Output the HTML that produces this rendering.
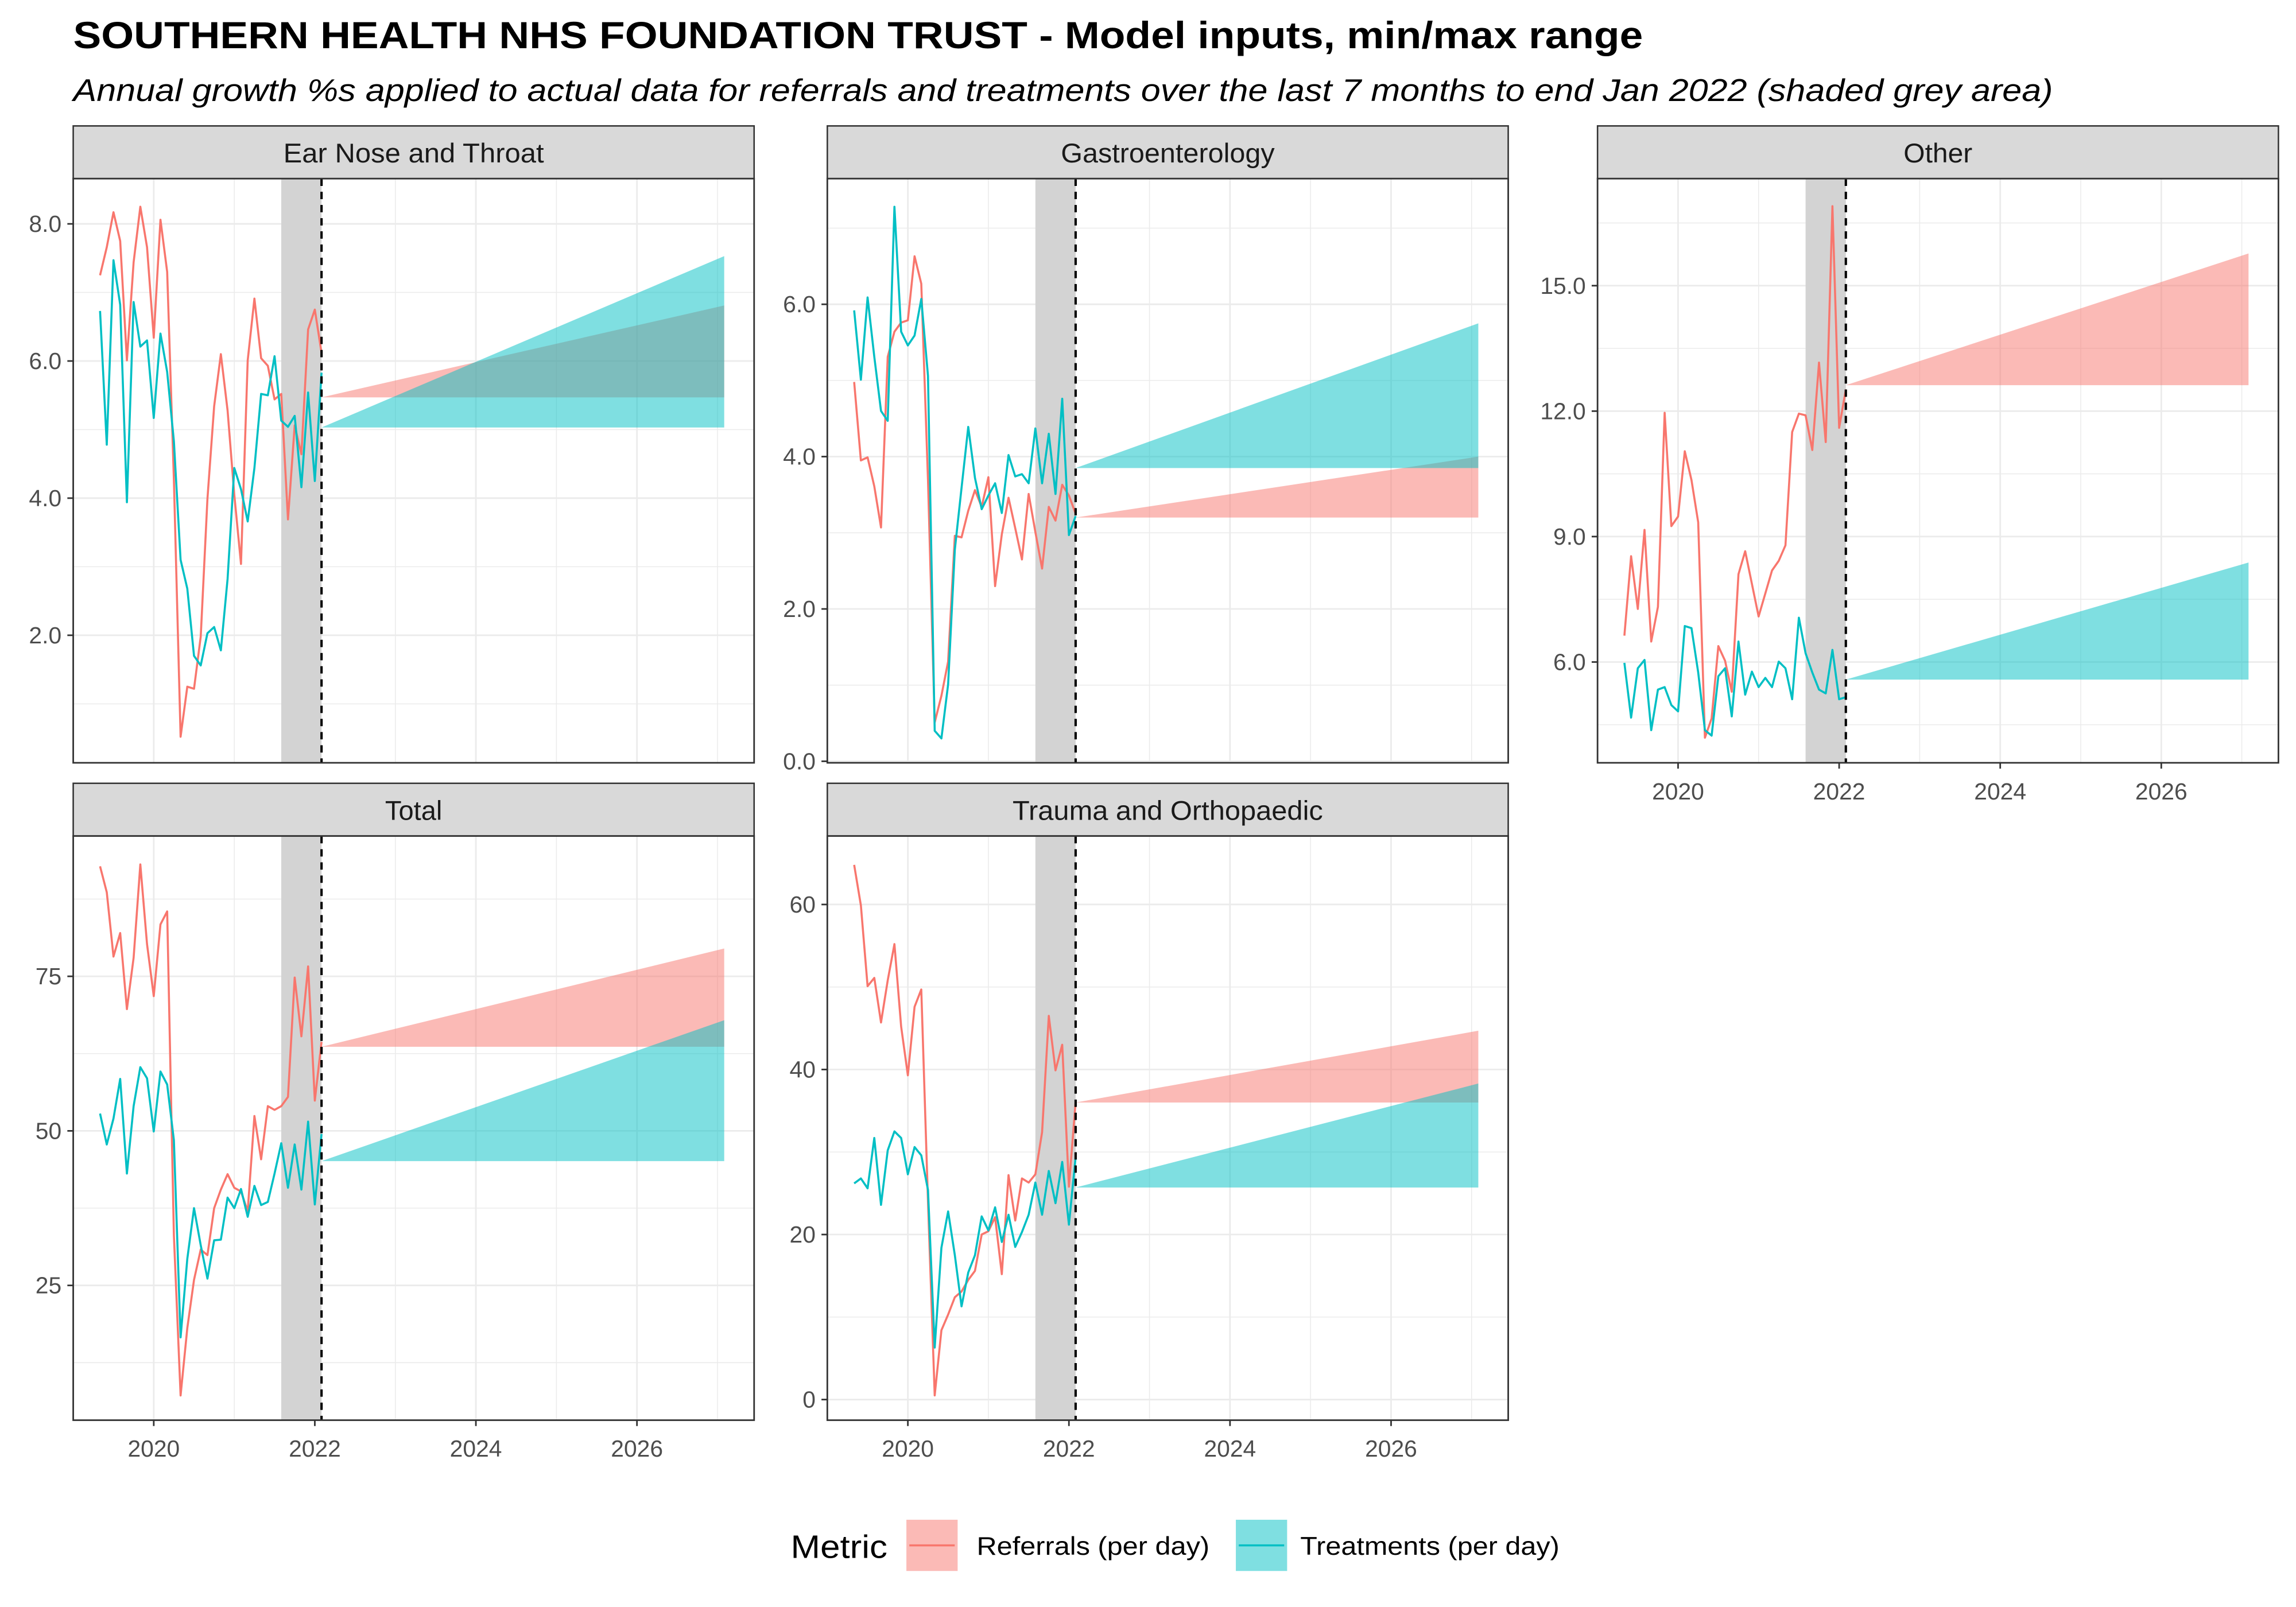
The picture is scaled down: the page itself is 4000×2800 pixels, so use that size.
<!DOCTYPE html>
<html><head><meta charset="utf-8">
<style>
html,body{margin:0;padding:0;background:#fff;}
svg{display:block;}
text{font-family:"Liberation Sans",Arial,sans-serif;}
</style></head>
<body>
<svg id="chart" width="4000" height="2800" viewBox="0 0 1568 1097.6" preserveAspectRatio="none" xmlns="http://www.w3.org/2000/svg">
<rect x="0" y="0" width="1568" height="1097.6" fill="#fff"/>
<text x="50" y="33" font-size="26" font-weight="bold" fill="#000" textLength="1072" lengthAdjust="spacingAndGlyphs">SOUTHERN HEALTH NHS FOUNDATION TRUST - Model inputs, min/max range</text>
<text x="50" y="69" font-size="21.5" font-style="italic" fill="#000" textLength="1352" lengthAdjust="spacingAndGlyphs">Annual growth %s applied to actual data for referrals and treatments over the last 7 months to end Jan 2022 (shaded grey area)</text>
<g id="panels"></g>
<g>
<text x="540" y="1064" font-size="22" fill="#000" textLength="66" lengthAdjust="spacingAndGlyphs">Metric</text>
<rect x="619" y="1038" width="35" height="35" fill="#F8766D" fill-opacity="0.5"/>
<line x1="621" y1="1055.5" x2="652" y2="1055.5" stroke="#F8766D" stroke-width="1.4"/>
<text x="667" y="1062" font-size="17.5" fill="#000" textLength="159" lengthAdjust="spacingAndGlyphs">Referrals (per day)</text>
<rect x="844" y="1038" width="35" height="35" fill="#00BFC4" fill-opacity="0.5"/>
<line x1="846" y1="1055.5" x2="877" y2="1055.5" stroke="#00BFC4" stroke-width="1.4"/>
<text x="888" y="1062" font-size="17.5" fill="#000" textLength="177" lengthAdjust="spacingAndGlyphs">Treatments (per day)</text>
</g>
</svg>
<script>
const startYear = 2019 + 4/12;
const shadeStart = 2021 + 7/12;
const cutYear = 2022 + 1/12;
const projEnd = 2027 + 1/12;
const xTicks = [2020, 2022, 2024, 2026];
const xMinor = [2019, 2021, 2023, 2025, 2027];

const entRef = [7.25,7.66,8.17,7.75,6.01,7.44,8.25,7.66,6.34,8.06,7.30,4.27,0.52,1.25,1.22,1.98,3.99,5.34,6.10,5.28,4.05,3.04,6.01,6.91,6.04,5.93,5.44,5.52,3.69,5.06,4.64,6.46,6.75,6.12];
const entTrt = [6.73,4.78,7.47,6.82,3.94,6.86,6.21,6.30,5.17,6.40,5.84,4.83,3.10,2.68,1.70,1.56,2.03,2.12,1.78,2.82,4.44,4.13,3.66,4.44,5.52,5.50,6.07,5.13,5.04,5.20,4.16,5.54,4.25,5.83];
const entProj = [5.47, 6.81, 5.03, 7.53];
const entTicks = [2,4,6,8];
const entMinor = [1,3,5,7];

const gasRef = [4.98,3.95,3.99,3.61,3.07,5.31,5.64,5.76,5.79,6.63,6.27,3.69,0.51,0.86,1.31,2.96,2.94,3.29,3.56,3.34,3.73,2.30,2.98,3.46,3.06,2.65,3.51,3.01,2.53,3.34,3.16,3.63,3.49,3.25];
const gasTrt = [5.92,5.01,6.09,5.31,4.60,4.47,7.28,5.64,5.46,5.59,6.07,5.06,0.40,0.30,1.01,2.78,3.59,4.39,3.72,3.31,3.49,3.65,3.26,4.02,3.74,3.77,3.65,4.37,3.65,4.30,3.51,4.76,2.97,3.22];
const gasProj = [3.20, 4.00, 3.85, 5.75];
const gasTicks = [0,2,4,6];
const gasMinor = [1,3,5,7];

const othRef = [6.63,8.53,7.27,9.16,6.49,7.32,11.96,9.25,9.48,11.04,10.35,9.34,4.19,4.65,6.38,6.03,5.29,8.10,8.65,7.87,7.09,7.64,8.19,8.42,8.79,11.50,11.94,11.90,11.07,13.16,11.26,16.90,11.60,12.52];
const othTrt = [5.98,4.67,5.85,6.05,4.37,5.34,5.40,4.97,4.82,6.86,6.81,5.75,4.37,4.24,5.66,5.85,4.70,6.49,5.22,5.77,5.40,5.62,5.40,6.01,5.85,5.11,7.06,6.21,5.75,5.34,5.25,6.29,5.11,5.16];
const othProj = [12.62, 15.77, 5.58, 8.38];
const othTicks = [6,9,12,15];
const othMinor = [4.5,7.5,10.5,13.5,16.5];

const totRef = [92.8,88.6,78.2,82.0,69.7,78.0,93.1,80.2,71.8,83.4,85.5,33.1,7.2,18.1,25.9,30.8,29.9,37.5,40.5,43.0,40.8,40.2,37.0,52.4,45.4,54.0,53.4,54.0,55.5,74.8,65.3,76.6,54.9,64.4];
const totTrt = [52.8,47.8,52.0,58.4,43.1,54.0,60.3,58.5,49.9,59.6,57.5,48.5,16.6,29.3,37.5,31.5,26.1,32.3,32.4,39.2,37.5,40.6,36.1,41.1,38.0,38.5,43.1,48.0,40.8,47.8,40.5,51.5,38.1,49.5];
const totProj = [63.6, 79.5, 45.1, 67.9];
const totTicks = [25,50,75];
const totMinor = [12.5,37.5,62.5,87.5];

const toRef = [64.8,59.9,50.1,51.1,45.7,50.8,55.2,45.2,39.3,47.6,49.7,24.0,0.5,8.4,10.3,12.4,13.1,14.5,15.6,20.0,20.4,22.1,15.2,27.2,21.7,26.8,26.3,27.3,32.4,46.5,39.9,43.0,25.8,36.1];
const toTrt = [26.2,26.8,25.6,31.7,23.6,30.2,32.5,31.7,27.3,30.6,29.6,25.4,6.3,18.4,22.8,17.5,11.3,15.4,17.5,22.2,20.5,23.3,19.1,22.4,18.5,20.3,22.4,26.3,22.4,27.7,23.8,28.8,21.2,29.4];
const toProj = [36.0, 44.7, 25.7, 38.3];
const toTicks = [0,20,40,60];
const toMinor = [10,30,50];

const NS = 'http://www.w3.org/2000/svg';
const root = document.getElementById('panels');
function mk(tag, attrs, parent){
  const e = document.createElementNS(NS, tag);
  for (const k in attrs) e.setAttribute(k, attrs[k]);
  (parent||root).appendChild(e);
  return e;
}
function panel(cfg){
  const {name,title,titleLen,left,top,ymin,ymax,ref,trt,proj,ticks,minor,dec,xaxis} = cfg;
  const W = 465, H = 399, stripH = 36;
  const pt = top + stripH, pb = pt + H;
  const g = mk('g', {});
  
  
  const xs = v => left + (v - 2019) * 55;
  const ys = v => pb - (v - ymin) / (ymax - ymin) * H;
  const st = mk('rect', {x:left, y:top, width:W, height:stripH, fill:'#D9D9D9', stroke:'#333', 'stroke-width':1}, g);
  
  
  const stt = mk('text', {x:left+W/2, y:top+25, 'font-size':18.5, 'text-anchor':'middle', fill:'#1A1A1A', textLength:titleLen, lengthAdjust:'spacingAndGlyphs'}, g);
  stt.textContent = title;
  
  
  minor.forEach(v => { const y = ys(v); if (y>pt && y<pb) mk('line', {x1:left, x2:left+W, y1:y, y2:y, stroke:'#EBEBEB', 'stroke-width':0.6}, g); });
  xMinor.forEach(v => { const x = xs(v); if (x>=left && x<=left+W) mk('line', {x1:x, x2:x, y1:pt, y2:pb, stroke:'#EBEBEB', 'stroke-width':0.6}, g); });
  ticks.forEach(v => { const y = ys(v); mk('line', {x1:left, x2:left+W, y1:y, y2:y, stroke:'#EBEBEB', 'stroke-width':1.1}, g); });
  xTicks.forEach(v => { const x = xs(v); mk('line', {x1:x, x2:x, y1:pt, y2:pb, stroke:'#EBEBEB', 'stroke-width':1.1}, g); });
  const sh = mk('rect', {x:xs(shadeStart), y:pt, width:xs(cutYear)-xs(shadeStart), height:H, fill:'#D3D3D3'}, g);
  
  
  const r1 = mk('polygon', {points:`${xs(cutYear)},${ys(proj[0])} ${xs(projEnd)},${ys(proj[0])} ${xs(projEnd)},${ys(proj[1])}`, fill:'#F8766D', 'fill-opacity':0.5}, g);
  
  
  const r2 = mk('polygon', {points:`${xs(cutYear)},${ys(proj[2])} ${xs(projEnd)},${ys(proj[2])} ${xs(projEnd)},${ys(proj[3])}`, fill:'#00BFC4', 'fill-opacity':0.5}, g);
  
  
  const p1 = mk('polyline', {points: ref.map((v,i)=>`${xs(startYear+i/12)},${ys(v)}`).join(' '), fill:'none', stroke:'#F8766D', 'stroke-width':1.4, 'stroke-linejoin':'round'}, g);
  
  
  const p2 = mk('polyline', {points: trt.map((v,i)=>`${xs(startYear+i/12)},${ys(v)}`).join(' '), fill:'none', stroke:'#00BFC4', 'stroke-width':1.4, 'stroke-linejoin':'round'}, g);
  
  
  const dl = mk('line', {x1:xs(cutYear), x2:xs(cutYear), y1:pt, y2:pb, stroke:'#000', 'stroke-width':1.6, 'stroke-dasharray':'5,4'}, g);
  
  
  mk('rect', {x:left, y:pt, width:W, height:H, fill:'none', stroke:'#333', 'stroke-width':1.1}, g);
  ticks.forEach(v => {
    const y = ys(v);
    mk('line', {x1:left-4, x2:left, y1:y, y2:y, stroke:'#333', 'stroke-width':1.1}, g);
    const t = mk('text', {x:left-8, y:y+5.5, 'font-size':16, 'text-anchor':'end', fill:'#4D4D4D'}, g);
    t.textContent = v.toFixed(dec);
    
    
  });
  if (xaxis) {
    xTicks.forEach(v => {
      const x = xs(v);
      mk('line', {x1:x, x2:x, y1:pb, y2:pb+4, stroke:'#333', 'stroke-width':1.1}, g);
      const t = mk('text', {x:x, y:pb+25, 'font-size':16, 'text-anchor':'middle', fill:'#4D4D4D'}, g);
      t.textContent = String(v);
      
      
    });
  }
}
panel({name:'ent', title:'Ear Nose and Throat', titleLen:178, left:50, top:86, ymin:0.14, ymax:8.66, ref:entRef, trt:entTrt, proj:entProj, ticks:entTicks, minor:entMinor, dec:1, xaxis:false});
panel({name:'gastro', title:'Gastroenterology', titleLen:146, left:565, top:86, ymin:-0.02, ymax:7.65, ref:gasRef, trt:gasTrt, proj:gasProj, ticks:gasTicks, minor:gasMinor, dec:1, xaxis:false});
panel({name:'other', title:'Other', titleLen:47, left:1091, top:86, ymin:3.59, ymax:17.56, ref:othRef, trt:othTrt, proj:othProj, ticks:othTicks, minor:othMinor, dec:1, xaxis:true});
panel({name:'total', title:'Total', titleLen:39, left:50, top:535, ymin:3.2, ymax:97.7, ref:totRef, trt:totTrt, proj:totProj, ticks:totTicks, minor:totMinor, dec:0, xaxis:true});
panel({name:'trauma-ortho', title:'Trauma and Orthopaedic', titleLen:212, left:565, top:535, ymin:-2.5, ymax:68.3, ref:toRef, trt:toTrt, proj:toProj, ticks:toTicks, minor:toMinor, dec:0, xaxis:true});
</script>
</body></html>
